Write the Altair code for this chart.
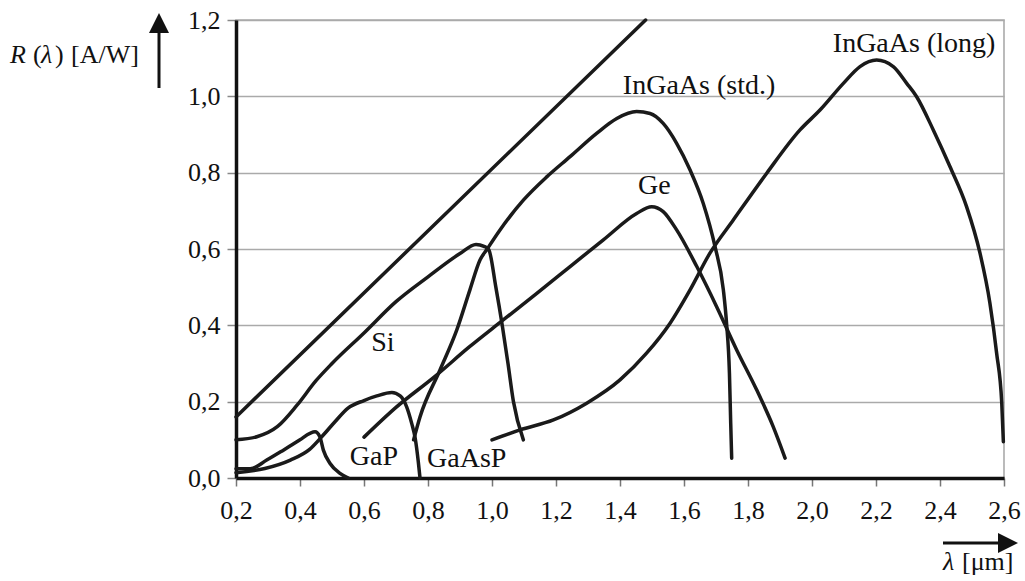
import altair as alt
import pandas as pd

# ---------------- data ----------------
ideal_x = [0.2, 1.48]
ideal_y = [0.16, 1.2]

si_x = [0.2, 0.265, 0.33, 0.39, 0.45, 0.5, 0.6, 0.7, 0.8, 0.9, 0.95, 0.975, 0.99, 1.012, 1.032, 1.05, 1.067, 1.098]
si_y = [0.10, 0.108, 0.135, 0.19, 0.255, 0.30, 0.38, 0.462, 0.527, 0.588, 0.612, 0.607, 0.598, 0.5, 0.4, 0.3, 0.2, 0.10]

gap_x = [0.2, 0.244, 0.296, 0.348, 0.4, 0.431, 0.447, 0.462, 0.473, 0.494, 0.525, 0.551]
gap_y = [0.024, 0.024, 0.047, 0.073, 0.1, 0.117, 0.121, 0.108, 0.073, 0.038, 0.012, 0.0]

gaasp_x = [0.2, 0.29, 0.37, 0.43, 0.47, 0.51, 0.55, 0.6, 0.64, 0.687, 0.713, 0.733, 0.749, 0.76, 0.77, 0.775]
gaasp_y = [0.014, 0.025, 0.047, 0.075, 0.11, 0.148, 0.183, 0.203, 0.215, 0.224, 0.215, 0.187, 0.143, 0.104, 0.04, 0.0]

ingaas_std_x = [0.755, 0.775, 0.8375, 0.89, 0.931, 0.9625, 0.985, 1.025, 1.098, 1.171, 1.244, 1.327, 1.39,
                1.452, 1.494, 1.535, 1.577, 1.619, 1.66, 1.697, 1.723, 1.733, 1.742, 1.746, 1.749]
ingaas_std_y = [0.10, 0.16, 0.283, 0.388, 0.493, 0.571, 0.60, 0.65, 0.728, 0.789, 0.842, 0.903, 0.942,
                0.96, 0.955, 0.929, 0.877, 0.807, 0.72, 0.606, 0.493, 0.405, 0.274, 0.143, 0.052]

ge_x = [0.6, 0.7, 0.82, 0.93, 1.035, 1.14, 1.244, 1.348, 1.452, 1.499, 1.535, 1.577, 1.64, 1.702, 1.765, 1.827, 1.879, 1.916]
ge_y = [0.107, 0.185, 0.265, 0.344, 0.414, 0.484, 0.554, 0.624, 0.693, 0.711, 0.698, 0.65, 0.554, 0.449, 0.335, 0.231, 0.134, 0.052]

ingaas_long_x = [1.0, 1.0875, 1.192, 1.296, 1.4, 1.483, 1.556, 1.619, 1.681, 1.754, 1.858, 1.9625, 2.025, 2.098,
                 2.15, 2.202, 2.254, 2.296, 2.327, 2.379, 2.431, 2.483, 2.525, 2.556, 2.577, 2.593, 2.598]
ingaas_long_y = [0.10, 0.126, 0.152, 0.196, 0.257, 0.327, 0.405, 0.493, 0.589, 0.676, 0.798, 0.912, 0.964, 1.034,
                 1.078, 1.095, 1.078, 1.034, 0.999, 0.912, 0.816, 0.711, 0.589, 0.458, 0.327, 0.196, 0.095]

label_text = ["Si", "GaP", "GaAsP", "Ge", "InGaAs (std.)", "InGaAs (long)"]
label_x = [0.659, 0.631, 0.921, 1.507, 1.647, 2.319]
label_y = [0.3335, 0.034, 0.030, 0.743, 1.005, 1.115]

x_ticks = [0.2, 0.4, 0.6, 0.8, 1.0, 1.2, 1.4, 1.6, 1.8, 2.0, 2.2, 2.4, 2.6]
y_ticks = [0.0, 0.1, 0.2, 0.3, 0.4, 0.5, 0.6, 0.7, 0.8, 0.9, 1.0, 1.1, 1.2]

# ---------------- tables ----------------
curves = {
    "ideal": (ideal_x, ideal_y),
    "Si": (si_x, si_y),
    "GaP": (gap_x, gap_y),
    "GaAsP": (gaasp_x, gaasp_y),
    "InGaAs std": (ingaas_std_x, ingaas_std_y),
    "Ge": (ge_x, ge_y),
    "InGaAs long": (ingaas_long_x, ingaas_long_y),
}
rows = []
for name, (xs, ys) in curves.items():
    for i, (a, b) in enumerate(zip(xs, ys)):
        rows.append({"curve": name, "i": i, "lam": a, "r": b})
df = pd.DataFrame(rows)
labels = pd.DataFrame({"t": label_text, "lam": label_x, "r": label_y})

FONT = "'Liberation Serif', 'Times New Roman', serif"
INK = "#1a1a1a"

x_scale = alt.Scale(domain=[0.2, 2.6], nice=False, zero=False)
y_scale = alt.Scale(domain=[0.0, 1.2], nice=False)

x_axis = alt.Axis(
    values=x_ticks, grid=False, title=None,
    labelExpr="replace(format(datum.value, '.1f'), '.', ',')",
    labelFont=FONT, labelFontSize=26, labelColor="#111", labelPadding=11,
    domainColor="#111", domainWidth=3.5, tickColor="#777", tickWidth=1.5, tickSize=8,
    labelFlush=False, labelOverlap=False,
)
y_axis = alt.Axis(
    values=y_ticks, grid=True, gridColor="#aaaaaa", gridWidth=1.6, title=None,
    labelExpr="(round(datum.value * 10) % 2 == 0) ? replace(format(datum.value, '.1f'), '.', ',') : ''",
    labelFont=FONT, labelFontSize=26, labelColor="#111", labelPadding=7,
    domainColor="#111", domainWidth=3.5, tickColor="#888", tickWidth=1.5, tickSize=9,
    labelFlush=False, labelOverlap=False,
)

lines = alt.Chart(df).mark_line(
    interpolate="monotone", color=INK, strokeWidth=3.5, strokeCap="round", strokeJoin="round"
).encode(
    x=alt.X("lam:Q", scale=x_scale, axis=x_axis),
    y=alt.Y("r:Q", scale=y_scale, axis=y_axis),
    detail="curve:N",
)

texts = alt.Chart(labels).mark_text(
    font=FONT, fontSize=28, color="#111", align="center", baseline="alphabetic"
).encode(
    x=alt.X("lam:Q", scale=x_scale),
    y=alt.Y("r:Q", scale=y_scale),
    text="t:N",
)

def txt(s, x, y, italic=False):
    kw = dict(font=FONT, fontSize=26, color="#111", align="left", baseline="alphabetic")
    if italic:
        kw["fontStyle"] = "italic"
    return alt.Chart(labels).mark_text(**kw).encode(
        x=alt.value(x), y=alt.value(y), text=alt.value(s)
    ).transform_filter("datum.t == 'Si'")

# y-axis title pieces: R (λ) [A/W]
yt = [
    txt("R", -226, 43, True),
    txt("(", -203, 43),
    txt("λ", -195, 43, True),
    txt(")", -181, 43),
    txt("[A/W]", -165, 43),
]
# x-axis title pieces: λ [μm]
xt = [
    txt("λ", 707, 550, True),
    txt("[μm]", 726, 550),
]

def rule(x1, x2, y1, y2):
    return alt.Chart(labels).mark_rule(color="#111", strokeWidth=3).encode(
        x=alt.value(x1), x2=alt.value(x2), y=alt.value(y1), y2=alt.value(y2)
    ).transform_filter("datum.t == 'Si'")

def head(x, y, path):
    return alt.Chart(labels).mark_point(
        shape=path, filled=True, color="#111", size=400, opacity=1, strokeWidth=0
    ).encode(x=alt.value(x), y=alt.value(y)).transform_filter("datum.t == 'Si'")

arrows = [
    rule(-77, -77, 68, 10),
    head(-77, 3, "M0,-1L1,1L-1,1Z"),
    rule(707, 764, 523, 523),
    head(772, 523, "M1,0L-1,-1L-1,1Z"),
]

chart = alt.layer(lines, texts, *yt, *xt, *arrows).properties(
    width=768, height=458,
    autosize=alt.AutoSizeParams(type="none"),
    padding={"left": 236, "top": 20, "right": 21, "bottom": 103},
    background="white",
).configure_view(stroke="#aaaaaa", strokeWidth=1.6)

chart.save("out.html", embed_options={"renderer": "svg", "actions": False})
